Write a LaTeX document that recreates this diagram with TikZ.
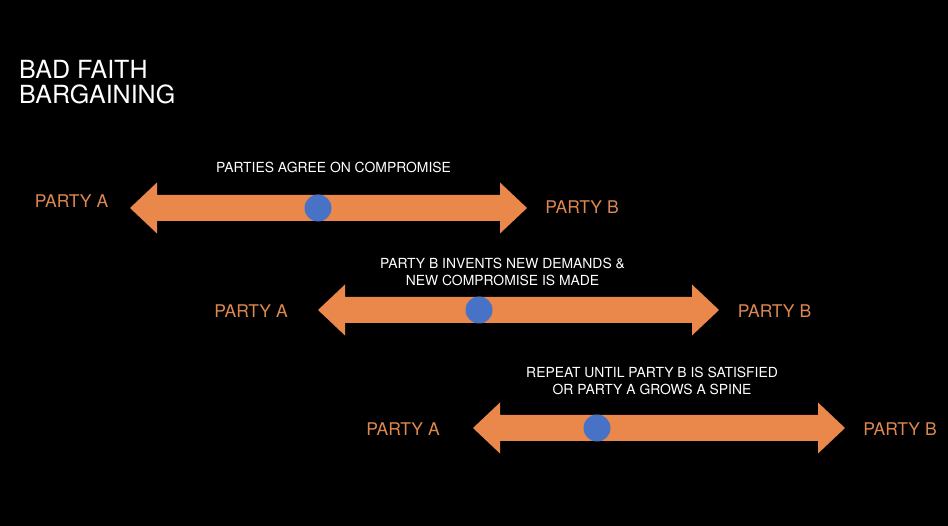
\documentclass[tikz,border=0pt]{standalone}
\usepackage{fontspec}
\setmainfont{TeX Gyre Heros}
\definecolor{arroworange}{RGB}{233,136,74}
\definecolor{labelorange}{RGB}{222,136,80}
\definecolor{dotblue}{RGB}{72,114,198}
\newcommand\bargarrow[3]{% left x, right x, centre y
  \fill[arroworange] (#1,#3) -- (#1+27,#3-25.5) -- (#1+27,#3-13) -- (#2-27,#3-13)
    -- (#2-27,#3-25.5) -- (#2,#3) -- (#2-27,#3+25.5) -- (#2-27,#3+13)
    -- (#1+27,#3+13) -- (#1+27,#3+25.5) -- cycle;}
\begin{document}
\begin{tikzpicture}[x=1pt,y=-1pt,
  party/.style={text=labelorange,inner sep=0pt,font=\fontsize{17.5}{20}\selectfont},
  note/.style={text=white,inner sep=0pt,align=center,font=\fontsize{13.9}{16.7}\selectfont},
  dot/.style={circle,fill=dotblue,minimum size=27pt,inner sep=0pt},
  title/.style={text=white,inner sep=0pt,align=left,anchor=north west,font=\fontsize{25}{25.5}\selectfont}]
\fill[black] (0,0) rectangle (948,526);
\useasboundingbox (0,0) rectangle (948,526);

\node[title] (title) at (19,60) {BAD FAITH\\BARGAINING};

% row 1
\bargarrow{130}{527}{208}
\node[note] (n1) at (333.5,167.5) {PARTIES AGREE ON COMPROMISE};
\node[party] (a1) at (71.5,201.5) {PARTY A};
\node[party] (b1) at (582,207) {PARTY B};
\node[dot] (d1) at (318,208) {};

% row 2
\bargarrow{318}{719}{310}
\node[note] (n2) at (502.5,271.7) {PARTY B INVENTS NEW DEMANDS \&\\NEW COMPROMISE IS MADE};
\node[party] (a2) at (251,311.5) {PARTY A};
\node[party] (b2) at (774.5,311) {PARTY B};
\node[dot] (d2) at (479,310) {};

% row 3
\bargarrow{473}{845}{428}
\node[note] (n3) at (652,380.7) {REPEAT UNTIL PARTY B IS SATISFIED\\OR PARTY A GROWS A SPINE};
\node[party] (a3) at (403,429.5) {PARTY A};
\node[party] (b3) at (900,429.5) {PARTY B};
\node[dot] (d3) at (597,428) {};
\end{tikzpicture}
\end{document}
